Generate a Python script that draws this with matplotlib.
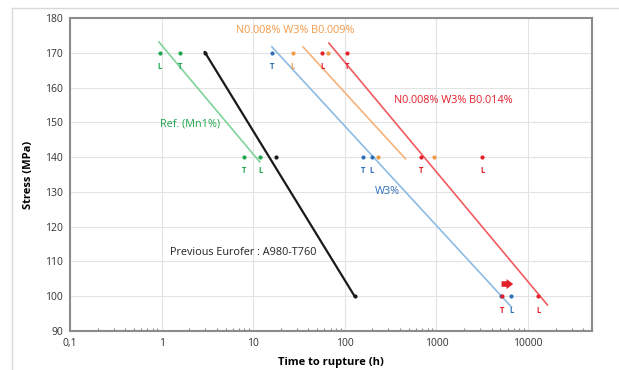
import matplotlib.pyplot as plt
from matplotlib.ticker import FixedLocator, LogLocator, NullFormatter
from matplotlib.lines import Line2D

# points: (time h, stress MPa, label)
ref_pts_t = [0.96, 1.6, 7.9, 12]
ref_pts_s = [170, 170, 140, 140]
ref_pts_lab = ['L', 'T', 'T', 'L']
ref_line_t = [0.935, 11.8]
ref_line_s = [173.1, 138.6]

old_pts_t = [2.96, 17.6, 128]
old_pts_s = [170, 140, 100]
old_line_t = [2.96, 128]
old_line_s = [170.2, 100]

w3_pts_t = [15.9, 157, 196, 5100, 6600]
w3_pts_s = [170, 140, 140, 100, 100]
w3_pts_lab = ['T', 'T', 'L', '', 'L']
w3_line_t = [16, 6600]
w3_line_s = [171.7, 96.9]

b9_pts_t = [26.9, 65, 229, 940]
b9_pts_s = [170, 170, 140, 140]
b9_pts_lab = ['L', '', '', '']
b9_line_t = [35, 460]
b9_line_s = [171.7, 139.5]

b14_pts_t = [57, 107, 680, 3170, 5200, 12900]
b14_pts_s = [170, 170, 140, 140, 100, 100]
b14_pts_lab = ['L', 'T', 'T', 'L', 'T', 'L']
b14_line_t = [67, 16300]
b14_line_s = [172.8, 97.5]

x_ticks = [0.1, 1, 10, 100, 1000, 10000]
x_tick_labels = ['0,1', '1', '10', '100', '1000', '10000']
y_ticks = list(range(90, 181, 10))

green_line, green_pt = '#7fd39a', '#1fa64f'
black = '#1a1a1a'
blue_line, blue_pt = '#8dbbe3', '#2e6fb7'
orange_line, orange_pt = '#f5b27a', '#f39a4a'
red_line, red_pt = '#f05a60', '#e3202a'

plt.rcParams['font.family'] = ['Open Sans', 'DejaVu Sans']

fig = plt.figure(figsize=(6.19, 3.70), dpi=100)
ax = fig.add_axes([70 / 619, 39 / 370, 522 / 619, 313 / 370])

# outer chart frame (left and top only visible)
fig.add_artist(Line2D([12 / 619, 12 / 619], [0, 1 - 8 / 370], color='#d9d9d9', lw=1))
fig.add_artist(Line2D([12 / 619, 1], [1 - 8 / 370, 1 - 8 / 370], color='#d9d9d9', lw=1))


def series(pt, pts_s, lab, line_t, line_s, lc, pc, lw=1.2):
    ax.plot(line_t, line_s, color=lc, lw=lw, zorder=3)
    ax.scatter(pt, pts_s, s=9, color=pc, zorder=4, linewidths=0)
    if lab:
        for t, s, l in zip(pt, pts_s, lab):
            if l:
                ax.annotate(l, (t, s), xytext=(0, -10), textcoords='offset points',
                            ha='center', va='center', fontsize=5.5, color=pc,
                            fontweight='bold')


series(ref_pts_t, ref_pts_s, ref_pts_lab, ref_line_t, ref_line_s, green_line, green_pt)
series(old_pts_t, old_pts_s, None, old_line_t, old_line_s, black, black, lw=1.6)
series(w3_pts_t, w3_pts_s, w3_pts_lab, w3_line_t, w3_line_s, blue_line, blue_pt)
series(b9_pts_t, b9_pts_s, b9_pts_lab, b9_line_t, b9_line_s, orange_line, orange_pt)
series(b14_pts_t, b14_pts_s, b14_pts_lab, b14_line_t, b14_line_s, red_line, red_pt)

ax.annotate('', xy=(6900, 103.5), xytext=(5150, 103.5),
            arrowprops=dict(arrowstyle='simple,head_width=0.9,head_length=0.6,tail_width=0.5',
                            color=red_pt, lw=0, shrinkA=0, shrinkB=0, mutation_scale=8))

fs = 7.8
ax.text(2.04, 149.5, 'Ref. (Mn1%)', color=green_pt, fontsize=fs, ha='center', va='center')
ax.text(29, 176.5, 'N0.008% W3% B0.009%', color=orange_pt, fontsize=fs, ha='center', va='center')
ax.text(1520, 156.4, 'N0.008% W3% B0.014%', color=red_pt, fontsize=fs, ha='center', va='center')
ax.text(295, 130, 'W3%', color=blue_pt, fontsize=fs, ha='center', va='center')
ax.text(7.7, 112.7, 'Previous Eurofer : A980-T760', color='#222222', fontsize=fs,
        ha='center', va='center')

ax.set_xscale('log')
ax.set_xlim(0.1, 50000)
ax.set_ylim(90, 180)
ax.xaxis.set_major_locator(FixedLocator(x_ticks))
ax.set_xticklabels(x_tick_labels)
ax.xaxis.set_minor_locator(LogLocator(base=10, subs=range(2, 10)))
ax.xaxis.set_minor_formatter(NullFormatter())
ax.set_yticks(y_ticks)
ax.tick_params(axis='both', which='major', length=0, labelsize=7.5, colors='#333333', pad=5)
ax.tick_params(axis='x', which='minor', length=2, direction='in', color='#888888', width=0.8)
ax.tick_params(axis='y', which='minor', length=0)
ax.grid(True, which='major', color='#e3e3e3', lw=0.8)
ax.set_axisbelow(True)
for sp in ax.spines.values():
    sp.set_color('#8c8c8c')
    sp.set_linewidth(1.5)

ax.set_xlabel('Time to rupture (h)', fontsize=8, fontweight='bold', labelpad=6)
ax.set_ylabel('Stress (MPa)', fontsize=8, fontweight='bold', labelpad=8)

fig.savefig('out.png', dpi=100)
